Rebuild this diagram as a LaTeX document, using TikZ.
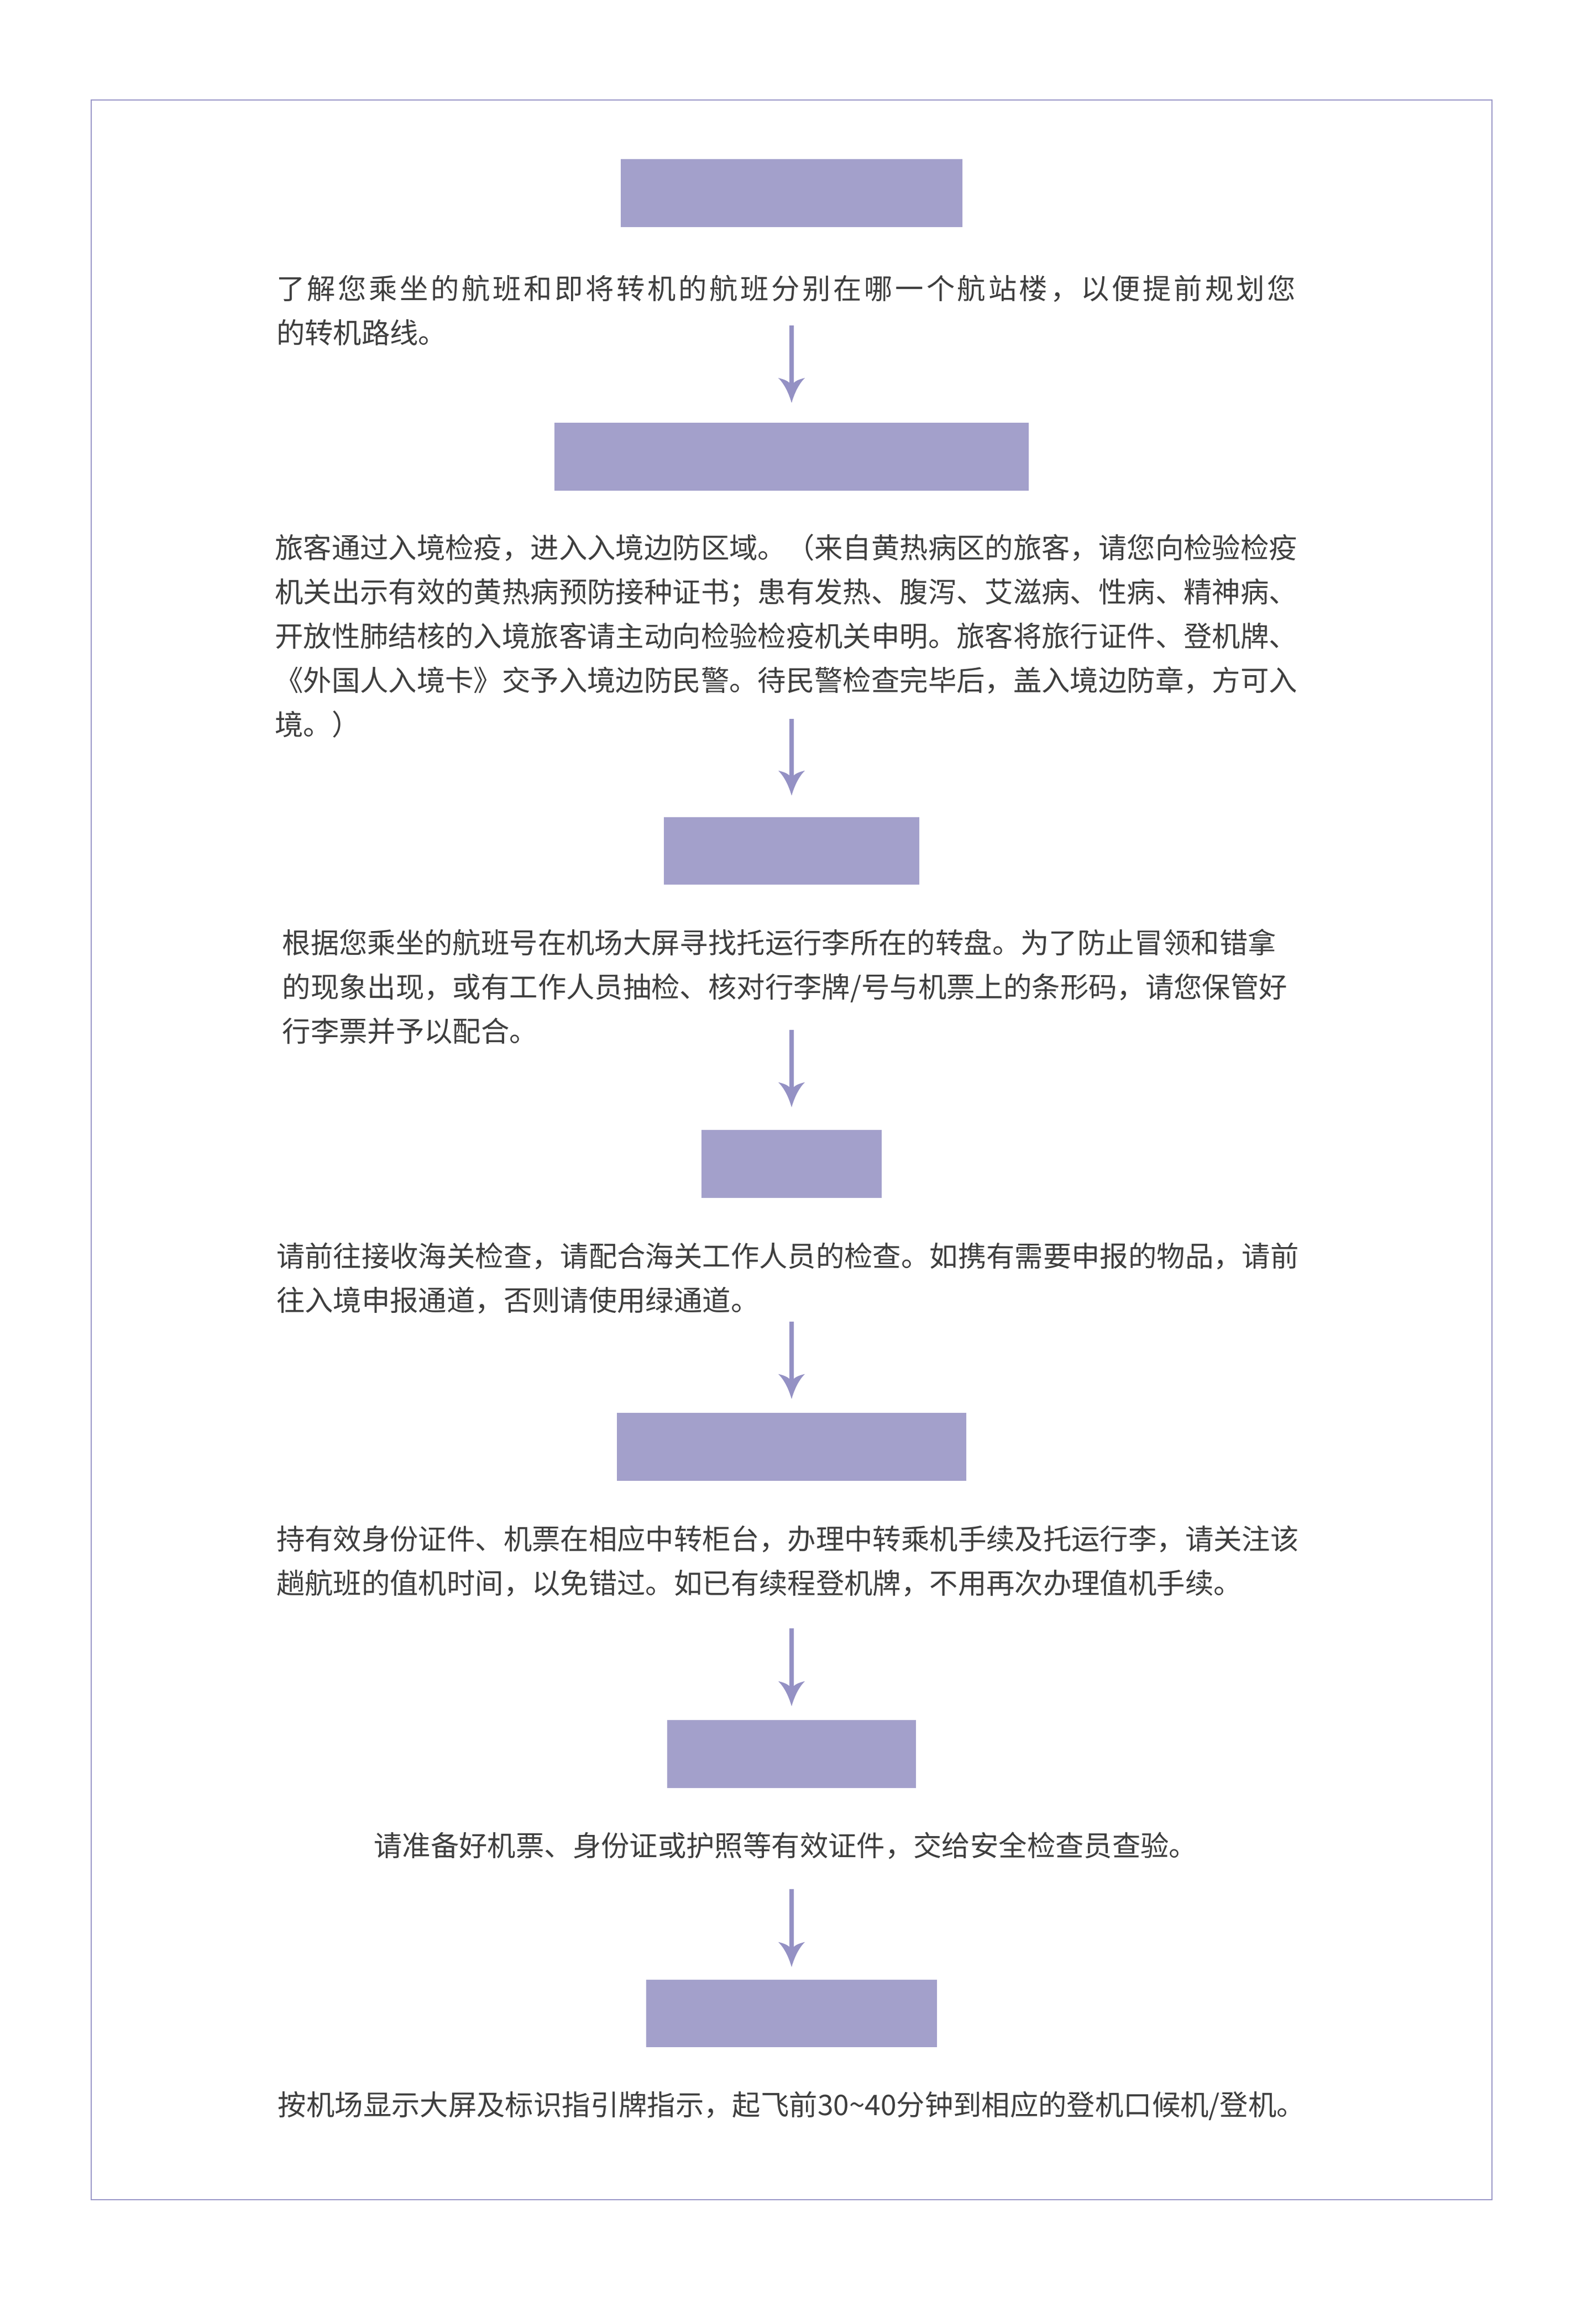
\documentclass[tikz,border=0pt]{standalone}
\usepackage{fontspec}
\newfontfamily\cjk{Noto Sans CJK SC}
\usetikzlibrary{calc}

\definecolor{stepfill}{RGB}{163,160,203}
\definecolor{flowcol}{RGB}{148,145,196}
\definecolor{framecol}{RGB}{155,152,200}
\definecolor{bodytext}{RGB}{62,62,62}

% a line that is spread out to the full text width
\newcommand{\spreadline}[2]{{\addfontfeatures{LetterSpace=#1}#2}}

\tikzset{every picture/.style={line width=0.75pt}}
\tikzset{
	stepbox/.style={fill=stepfill, draw=none, inner sep=0, minimum height=34.5pt},
	bodypar/.style={anchor=north west, inner sep=0, text=bodytext, align=left, font=\cjk\fontsize{14.45pt}{22.5pt}\selectfont},
	bodyline/.style={anchor=north, inner sep=0, text=bodytext, font=\cjk\fontsize{14.45pt}{22.5pt}\selectfont},
	flowline/.style={draw=flowcol, line width=2.1pt, shorten >=7.5pt},
	flowhead/.style={fill=flowcol, draw opacity=0}
}

\begin{document}
\begin{tikzpicture}[x=0.75pt,y=0.75pt,yscale=-1,xscale=1]
%set diagram left start at 0, and has height of 1577
\useasboundingbox (0,0) rectangle (1080,1577.25);

%Shape: Rectangle [frame]
\draw [draw=framecol, line width=0.6pt] (62,68) rectangle (1012,1493);

%Shape: Rectangle [steps]
\node [stepbox, minimum width=174pt] (b1) at (537,131) {};
\node [stepbox, minimum width=241.5pt] (b2) at (537,310) {};
\node [stepbox, minimum width=129.75pt] (b3) at (537,577.5) {};
\node [stepbox, minimum width=91.5pt] (b4) at (537,790) {};
\node [stepbox, minimum width=177.75pt] (b5) at (537,982) {};
\node [stepbox, minimum width=126.75pt] (b6) at (537,1190.5) {};
\node [stepbox, minimum width=147.75pt] (b7) at (537,1366.5) {};

% Text Node
\node [bodypar] (t1) at (187,186) {\spreadline{9.0}{了解您乘坐的航班和即将转机的航班分别在哪一个航站楼，以便提前规划您}\\ 的转机路线。};
% Text Node
\node [bodypar] (t2) at (186,362) {旅客通过入境检疫，进入入境边防区域。（来自黄热病区的旅客，请您向检验检疫\\ 机关出示有效的黄热病预防接种证书；患有发热、腹泻、艾滋病、性病、精神病、\\ 开放性肺结核的入境旅客请主动向检验检疫机关申明。旅客将旅行证件、登机牌、\\ 《外国人入境卡》交予入境边防民警。待民警检查完毕后，盖入境边防章，方可入\\ 境。）};
% Text Node
\node [bodypar] (t3) at (191,630) {根据您乘坐的航班号在机场大屏寻找托运行李所在的转盘。为了防止冒领和错拿\\ 的现象出现，或有工作人员抽检、核对行李牌/号与机票上的条形码，请您保管好\\ 行李票并予以配合。};
% Text Node
\node [bodypar] (t4) at (187,843) {请前往接收海关检查，请配合海关工作人员的检查。如携有需要申报的物品，请前\\ 往入境申报通道，否则请使用绿通道。};
% Text Node
\node [bodypar] (t5) at (187,1035) {持有效身份证件、机票在相应中转柜台，办理中转乘机手续及托运行李，请关注该\\ 趟航班的值机时间，以免错过。如已有续程登机牌，不用再次办理值机手续。};
% Text Node
\node [bodyline] (t6) at (533,1243) {请准备好机票、身份证或护照等有效证件，交给安全检查员查验。};
% Text Node
\node [bodyline] (t7) at (537,1419) {按机场显示大屏及标识指引牌指示，起飞前30{\char"7E}40分钟到相应的登机口候机/登机。};

%Straight Lines [arrows]
\coordinate (s1) at (537,221);
\coordinate (s2) at (537,488);
\coordinate (s3) at (537,699);
\coordinate (s4) at (537,897);
\coordinate (s5) at (537,1105);
\coordinate (s6) at (537,1282);
\coordinate (h1) at ($(b2.north)+(0,-13)$);
\coordinate (h2) at ($(b3.north)+(0,-14)$);
\coordinate (h3) at ($(b4.north)+(0,-15)$);
\coordinate (h4) at ($(b5.north)+(0,-9)$);
\coordinate (h5) at ($(b6.north)+(0,-9)$);
\coordinate (h6) at ($(b7.north)+(0,-8)$);

\draw [flowline] (s1) -- (h1);
\draw [flowhead, shift={(h1)}] (0,0) .. controls (-2,-7) and (-5,-13) .. (-9,-17) .. controls (-5,-16) and (-2,-15) .. (0,-12) .. controls (2,-15) and (5,-16) .. (9,-17) .. controls (5,-13) and (2,-7) .. (0,0) -- cycle ;
\draw [flowline] (s2) -- (h2);
\draw [flowhead, shift={(h2)}] (0,0) .. controls (-2,-7) and (-5,-13) .. (-9,-17) .. controls (-5,-16) and (-2,-15) .. (0,-12) .. controls (2,-15) and (5,-16) .. (9,-17) .. controls (5,-13) and (2,-7) .. (0,0) -- cycle ;
\draw [flowline] (s3) -- (h3);
\draw [flowhead, shift={(h3)}] (0,0) .. controls (-2,-7) and (-5,-13) .. (-9,-17) .. controls (-5,-16) and (-2,-15) .. (0,-12) .. controls (2,-15) and (5,-16) .. (9,-17) .. controls (5,-13) and (2,-7) .. (0,0) -- cycle ;
\draw [flowline] (s4) -- (h4);
\draw [flowhead, shift={(h4)}] (0,0) .. controls (-2,-7) and (-5,-13) .. (-9,-17) .. controls (-5,-16) and (-2,-15) .. (0,-12) .. controls (2,-15) and (5,-16) .. (9,-17) .. controls (5,-13) and (2,-7) .. (0,0) -- cycle ;
\draw [flowline] (s5) -- (h5);
\draw [flowhead, shift={(h5)}] (0,0) .. controls (-2,-7) and (-5,-13) .. (-9,-17) .. controls (-5,-16) and (-2,-15) .. (0,-12) .. controls (2,-15) and (5,-16) .. (9,-17) .. controls (5,-13) and (2,-7) .. (0,0) -- cycle ;
\draw [flowline] (s6) -- (h6);
\draw [flowhead, shift={(h6)}] (0,0) .. controls (-2,-7) and (-5,-13) .. (-9,-17) .. controls (-5,-16) and (-2,-15) .. (0,-12) .. controls (2,-15) and (5,-16) .. (9,-17) .. controls (5,-13) and (2,-7) .. (0,0) -- cycle ;

\end{tikzpicture}
\end{document}
